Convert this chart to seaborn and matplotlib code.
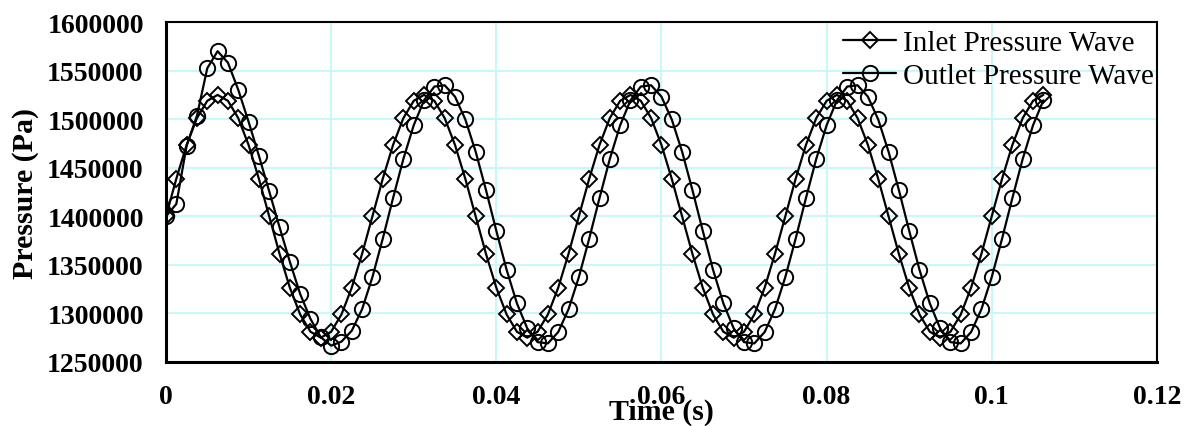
import matplotlib
matplotlib.use("Agg")
import matplotlib.pyplot as plt
import matplotlib.ticker as mticker
import numpy as np
import pandas as pd
import seaborn as sns

# ---- data ----
time_step = 0.00125
n_points = 86
time_s = [round(i * time_step, 5) for i in range(n_points)]

inlet_pa = [
    1400000, 1438600, 1473500, 1501100, 1518900, 1525000, 1518900, 1501100, 1473500, 1438600,
    1400000, 1361400, 1326500, 1298900, 1281100, 1275000, 1281100, 1298900, 1326500, 1361400,
    1400000, 1438600, 1473500, 1501100, 1518900, 1525000, 1518900, 1501100, 1473500, 1438600,
    1400000, 1361400, 1326500, 1298900, 1281100, 1275000, 1281100, 1298900, 1326500, 1361400,
    1400000, 1438600, 1473500, 1501100, 1518900, 1525000, 1518900, 1501100, 1473500, 1438600,
    1400000, 1361400, 1326500, 1298900, 1281100, 1275000, 1281100, 1298900, 1326500, 1361400,
    1400000, 1438600, 1473500, 1501100, 1518900, 1525000, 1518900, 1501100, 1473500, 1438600,
    1400000, 1361400, 1326500, 1298900, 1281100, 1275000, 1281100, 1298900, 1326500, 1361400,
    1400000, 1438600, 1473500, 1501100, 1518900, 1525000,
]

outlet_pa = [
    1400000, 1412600, 1472600, 1503500, 1552400, 1570000, 1558200, 1530300, 1497400, 1462400,
    1425700, 1388800, 1353200, 1320000, 1294300, 1275400, 1266800, 1270900, 1282200, 1304300,
    1337400, 1376900, 1418800, 1459100, 1493700, 1519400, 1533600, 1534900, 1523200, 1499700,
    1466600, 1427100, 1385200, 1344900, 1310300, 1284600, 1270400, 1269100, 1280800, 1304300,
    1337400, 1376900, 1418800, 1459100, 1493700, 1519400, 1533600, 1534900, 1523200, 1499700,
    1466600, 1427100, 1385200, 1344900, 1310300, 1284600, 1270400, 1269100, 1280800, 1304300,
    1337400, 1376900, 1418800, 1459100, 1493700, 1519400, 1533600, 1534900, 1523200, 1499700,
    1466600, 1427100, 1385200, 1344900, 1310300, 1284600, 1270400, 1269100, 1280800, 1304300,
    1337400, 1376900, 1418800, 1459100, 1493700, 1519400,
]

series_labels = ["Inlet Pressure Wave", "Outlet Pressure Wave"]
x_ticks = [0, 0.02, 0.04, 0.06, 0.08, 0.1, 0.12]
y_ticks = [1250000, 1300000, 1350000, 1400000, 1450000, 1500000, 1550000, 1600000]

# ---- style ----
sns.set_theme(style="white")
plt.rcParams["font.family"] = ["Liberation Serif", "DejaVu Serif"]
plt.rcParams["text.color"] = "black"
plt.rcParams["axes.labelcolor"] = "black"
plt.rcParams["xtick.color"] = "black"
plt.rcParams["ytick.color"] = "black"

fig = plt.figure(figsize=(11.89, 4.27), dpi=100)
ax = fig.add_axes([0.1396, 0.150, 0.8334, 0.796])

df = pd.DataFrame({"time": time_s, "inlet": inlet_pa, "outlet": outlet_pa})

sns.lineplot(data=df, x="time", y="inlet", ax=ax, color="black", linewidth=1.6,
             marker="D", markersize=8, markerfacecolor="none",
             markeredgecolor="black", markeredgewidth=1.4, label=series_labels[0],
             zorder=3)
sns.lineplot(data=df, x="time", y="outlet", ax=ax, color="black", linewidth=1.6,
             marker="o", markersize=11, markerfacecolor="none",
             markeredgecolor="black", markeredgewidth=1.4, label=series_labels[1],
             zorder=3)

ax.set_xlim(0, 0.12)
ax.set_ylim(1250000, 1600000)
ax.set_xticks(x_ticks)
ax.set_yticks(y_ticks)
ax.xaxis.set_major_formatter(mticker.FuncFormatter(lambda v, p: "%g" % round(v, 4)))
ax.yaxis.set_major_formatter(mticker.FuncFormatter(lambda v, p: "%d" % round(v)))

ax.grid(True, color="#c8f8f8", linewidth=1.5, zorder=0)
ax.set_axisbelow(True)

for lab in ax.get_xticklabels() + ax.get_yticklabels():
    lab.set_fontweight("bold")
    lab.set_fontsize(20)
    lab.set_color("black")
ax.tick_params(axis="both", length=0)
ax.tick_params(axis="x", pad=16)
ax.tick_params(axis="y", pad=16)

ax.set_xlabel("Time (s)", fontsize=21.5, fontweight="bold", labelpad=-8, color="black")
ax.set_ylabel("Pressure (Pa)", fontsize=21.5, fontweight="bold", labelpad=6, color="black")

for side in ["left", "bottom"]:
    ax.spines[side].set_linewidth(2.2)
    ax.spines[side].set_color("black")
for side in ["top", "right"]:
    ax.spines[side].set_linewidth(1.5)
    ax.spines[side].set_color("black")

leg = ax.legend(loc="upper right", bbox_to_anchor=(1.0, 0.985), frameon=False, fontsize=21,
                handlelength=1.8, handletextpad=0.25, borderaxespad=0.0,
                labelspacing=0.2, borderpad=0.1)
for t in leg.get_texts():
    t.set_color("black")

fig.savefig("out.png", dpi=100)
